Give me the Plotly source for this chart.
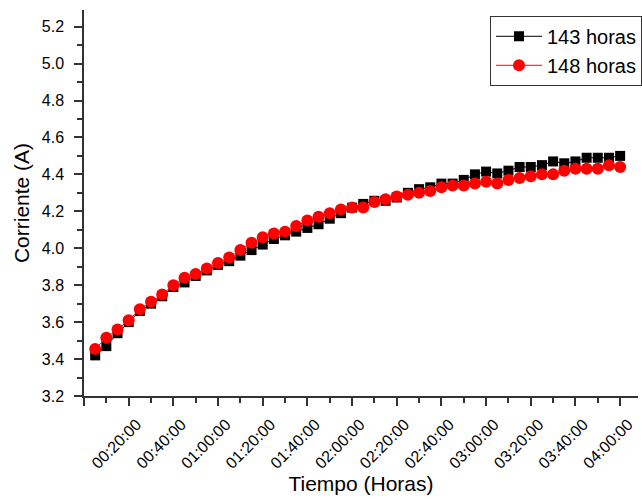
import plotly.graph_objects as go

minutes = list(range(5, 245, 5))

horas_143 = [3.42, 3.47, 3.54, 3.60, 3.66, 3.70, 3.74, 3.79, 3.815, 3.85,
             3.88, 3.91, 3.93, 3.96, 3.99, 4.02, 4.05, 4.07, 4.09, 4.11,
             4.13, 4.16, 4.19, 4.22, 4.24, 4.257, 4.257, 4.275, 4.30, 4.32,
             4.33, 4.35, 4.35, 4.37, 4.40, 4.415, 4.405, 4.42, 4.44, 4.44,
             4.45, 4.47, 4.46, 4.47, 4.49, 4.49, 4.49, 4.50]

horas_148 = [3.455, 3.515, 3.56, 3.61, 3.67, 3.71, 3.75, 3.80, 3.84, 3.86,
             3.89, 3.92, 3.95, 3.99, 4.03, 4.06, 4.08, 4.09, 4.12, 4.15,
             4.17, 4.19, 4.21, 4.22, 4.22, 4.25, 4.265, 4.28, 4.29, 4.30,
             4.31, 4.33, 4.34, 4.34, 4.35, 4.36, 4.35, 4.37, 4.38, 4.39,
             4.40, 4.40, 4.42, 4.43, 4.43, 4.43, 4.45, 4.44]

tick_minutes = list(range(0, 241, 20))
tick_labels = [""] + ["00:20:00", "00:40:00", "01:00:00", "01:20:00", "01:40:00",
                      "02:00:00", "02:20:00", "02:40:00", "03:00:00", "03:20:00",
                      "03:40:00", "04:00:00"]

FONT = "Liberation Sans, Arial, sans-serif"

fig = go.Figure()
fig.add_trace(go.Scatter(
    x=minutes, y=horas_143, name="143 horas", mode="lines+markers",
    line=dict(color="black", width=1),
    marker=dict(symbol="square", size=10, color="black"),
))
fig.add_trace(go.Scatter(
    x=minutes, y=horas_148, name="148 horas", mode="lines+markers",
    line=dict(color="#ff0000", width=1),
    marker=dict(symbol="circle", size=12, color="#ff0000"),
))

fig.update_layout(
    width=642, height=499,
    margin=dict(l=84, r=0, t=10, b=103),
    paper_bgcolor="white", plot_bgcolor="white",
    font=dict(family=FONT, color="black"),
    showlegend=True,
    legend=dict(
        x=0.733, y=0.985, xanchor="left", yanchor="top",
        bordercolor="#333333", borderwidth=1, bgcolor="white",
        font=dict(size=20, family=FONT),
        tracegroupgap=0, itemwidth=46,
    ),
)

fig.update_xaxes(
    range=[0, 248],
    tickmode="array", tickvals=tick_minutes, ticktext=tick_labels,
    tickangle=-45, tickfont=dict(size=16, family=FONT),
    ticks="outside", ticklen=8, tickwidth=1.5, tickcolor="#333333",
    ticklabelstandoff=3, ticklabelshift=8,
    minor=dict(ticks="outside", ticklen=5, tickwidth=1.5, tickcolor="#333333", dtick=10, tick0=0),
    showline=True, linecolor="#333333", linewidth=1.5,
    showgrid=False, zeroline=False,
    title=dict(text="Tiempo (Horas)", font=dict(size=21, family=FONT), standoff=6),
)
fig.update_yaxes(
    range=[3.2, 5.29],
    tickvals=[3.2, 3.4, 3.6, 3.8, 4.0, 4.2, 4.4, 4.6, 4.8, 5.0, 5.2],
    tickformat=".1f", tickfont=dict(size=16, family=FONT),
    ticks="outside", ticklen=8, tickwidth=1.5, tickcolor="#333333",
    ticklabelstandoff=7,
    minor=dict(ticks="outside", ticklen=5, tickwidth=1.5, tickcolor="#333333", dtick=0.1, tick0=3.2),
    showline=True, linecolor="#333333", linewidth=1.5,
    showgrid=False, zeroline=False,
    title=dict(text="Corriente (A)", font=dict(size=21, family=FONT), standoff=6),
)

fig.write_html("out.html")
